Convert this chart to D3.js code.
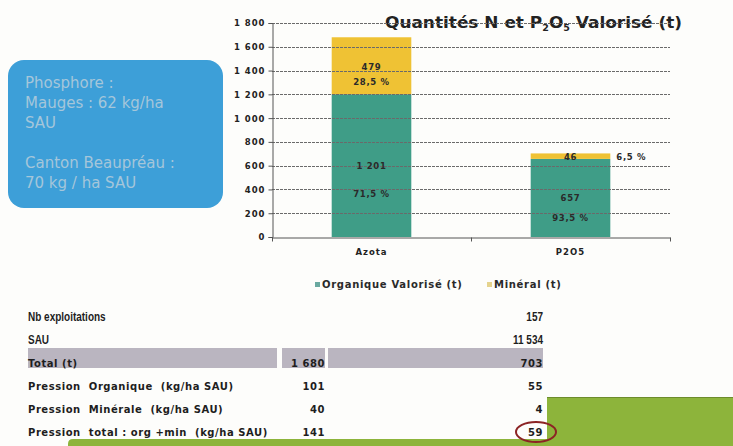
<!DOCTYPE html>
<html>
<head>
<meta charset="utf-8">
<script src="https://cdn.jsdelivr.net/npm/d3@7"></script>
<style>
    body { margin: 0; background: #fdfdfb; }
    svg { display: block; }
    .axis path, .axis line { stroke: #555; }
    .axis text { font-family: "DejaVu Sans", sans-serif; font-weight: bold; font-size: 8.5px; fill: #222; letter-spacing: 1px; }
    .pre { white-space: pre; }
</style>
</head>
<body>
<div id="chart"></div>
<script>
// chart data
var categories = ["Azota", "P2O5"];
var organique = [1201, 657];
var mineral = [479, 46];
var organiquePct = ["71,5 %", "93,5 %"];
var mineralPct = ["28,5 %", "6,5 %"];
var yTicks = [0, 200, 400, 600, 800, 1000, 1200, 1400, 1600, 1800];
var seriesNames = ["Organique Valorisé (t)", "Minéral (t)"];

// table data
var rowLabels = ["Nb exploitations", "SAU", "Total (t)", "Pression  Organique  (kg/ha SAU)",
    "Pression  Minérale  (kg/ha SAU)", "Pression  total : org +min  (kg/ha SAU)"];
var azoteCol = ["", "", "1 680", "101", "40", "141"];
var p2o5Col = ["157", "11 534", "703", "55", "4", "59"];

// note box
var noteLines = ["Phosphore :", "Mauges : 62 kg/ha", "SAU", "", "Canton Beaupréau :", "70 kg / ha SAU"];

var W = 733, H = 446;
var colors = { org: "#3f9d87", min: "#efc234", text: "#2a2a2a" };
var fr = d3.formatLocale({ decimal: ",", thousands: "\u00a0", grouping: [3], currency: ["", " €"] });
var fmt = fr.format(",");

var svg = d3.select("#chart").append("svg")
    .attr("width", W)
    .attr("height", H);

// background shapes (green block bottom right)
svg.append("path")
    .attr("d", "M547,397 L733,397 L733,446 L68,446 L68,444 Q68,439 73,439 L547,439 Z")
    .attr("fill", "#8db43b");
svg.append("line")
    .attr("x1", 547).attr("x2", 733).attr("y1", 397.5).attr("y2", 397.5)
    .attr("stroke", "#6d8c2c").attr("stroke-width", 1);

// blue note box
svg.append("rect")
    .attr("x", 8).attr("y", 60)
    .attr("width", 215).attr("height", 148)
    .attr("rx", 16).attr("ry", 16)
    .attr("fill", "#3d9fd8");
svg.append("g").selectAll("text")
    .data(noteLines)
    .join("text")
    .attr("x", 25)
    .attr("y", function(d, i) { return 88 + i * 20; })
    .attr("font-family", "DejaVu Sans, sans-serif")
    .attr("font-size", 15)
    .attr("fill", "#a5c6da")
    .text(function(d) { return d; });

// scales
var y = d3.scaleLinear().domain([0, 1800]).range([237, 23]);
var x = d3.scaleBand().domain(categories).range([272, 670]).paddingInner(0.6).paddingOuter(0.3);

// title (drawn below gridlines, like the original)
var title = svg.append("text")
    .attr("x", 385).attr("y", 28)
    .attr("font-family", "DejaVu Sans, sans-serif")
    .attr("font-weight", "bold")
    .attr("font-size", 16)
    .attr("fill", "#222");
title.append("tspan").text("Quantités N et P");
title.append("tspan").attr("font-size", 9).attr("dy", 3).text("2");
title.append("tspan").attr("dy", -3).text("O");
title.append("tspan").attr("font-size", 9).attr("dy", 3).text("5");
title.append("tspan").attr("dy", -3).text(" Valorisé (t)");
title.attr("textLength", 297).attr("lengthAdjust", "spacingAndGlyphs");

// stacked bars
var stackData = categories.map(function(c, i) {
    return { cat: c, org: organique[i], min: mineral[i], orgPct: organiquePct[i], minPct: mineralPct[i] };
});
var bars = svg.append("g").selectAll("g")
    .data(stackData)
    .join("g");
bars.append("rect")
    .attr("x", function(d) { return x(d.cat); })
    .attr("width", x.bandwidth())
    .attr("y", function(d) { return y(d.org); })
    .attr("height", function(d) { return y(0) - y(d.org); })
    .attr("fill", colors.org);
bars.append("rect")
    .attr("x", function(d) { return x(d.cat); })
    .attr("width", x.bandwidth())
    .attr("y", function(d) { return y(d.org + d.min); })
    .attr("height", function(d) { return y(d.org) - y(d.org + d.min); })
    .attr("fill", colors.min);

// gridlines
svg.append("g").selectAll("line")
    .data(yTicks.slice(1))
    .join("line")
    .attr("x1", 272).attr("x2", 670)
    .attr("y1", function(d) { return Math.round(y(d)) + 0.5; })
    .attr("y2", function(d) { return Math.round(y(d)) + 0.5; })
    .attr("stroke", "#6a6a6a")
    .attr("stroke-width", 1)
    .attr("stroke-dasharray", "3,1");

// axes
svg.append("g")
    .attr("class", "axis")
    .attr("transform", "translate(272.5,0)")
    .call(d3.axisLeft(y).tickValues(yTicks).tickSize(4).tickPadding(3).tickFormat(fmt))
    .call(function(g) { g.selectAll(".tick text").attr("dy", "0.35em"); });

var xAxis = svg.append("g")
    .attr("class", "axis")
    .attr("transform", "translate(0," + (y(0) + 0.5) + ")")
    .call(d3.axisBottom(x).tickSize(0).tickPadding(11).tickSizeOuter(0));
xAxis.selectAll(".tick text").attr("font-size", 9).attr("letter-spacing", 0.5);
// ticks between categories
var bounds = [x.range()[0], (x("Azota") + x("P2O5") + x.bandwidth()) / 2, x.range()[1]];
xAxis.selectAll(".bound")
    .data(bounds)
    .join("line")
    .attr("class", "bound")
    .attr("x1", function(d) { return Math.round(d) + 0.5; })
    .attr("x2", function(d) { return Math.round(d) + 0.5; })
    .attr("y1", 0).attr("y2", 4);

// bar labels
var lbl = svg.append("g")
    .attr("font-family", "DejaVu Sans, sans-serif")
    .attr("font-weight", "bold")
    .attr("font-size", 8.5)
    .attr("letter-spacing", 0.7)
    .attr("fill", colors.text)
    .attr("text-anchor", "middle");

stackData.forEach(function(d) {
    var cx = x(d.cat) + x.bandwidth() / 2;
    // organique segment
    var top = y(d.org), bot = y(0), h = bot - top, mid = (top + bot) / 2;
    lbl.append("text").attr("x", cx).attr("y", mid).attr("dy", "0.35em").text(fmt(d.org));
    lbl.append("text").attr("x", cx).attr("y", mid + Math.min(28, h * 0.26)).attr("dy", "0.35em").text(d.orgPct);
    // mineral segment
    var mtop = y(d.org + d.min), mh = top - mtop, mmid = (mtop + top) / 2;
    if (mh > 20) {
        lbl.append("text").attr("x", cx).attr("y", mmid + 1).attr("dy", "0.35em").text(fmt(d.min));
        lbl.append("text").attr("x", cx).attr("y", mmid + 16).attr("dy", "0.35em").text(d.minPct);
    } else {
        lbl.append("text").attr("x", cx).attr("y", mmid + 1).attr("dy", "0.35em").text(fmt(d.min));
        lbl.append("text").attr("x", x(d.cat) + x.bandwidth() + 6).attr("y", mmid + 1).attr("dy", "0.35em")
            .attr("text-anchor", "start").text(d.minPct);
    }
});

// legend
var legend = svg.append("g")
    .attr("font-family", "DejaVu Sans, sans-serif")
    .attr("font-weight", "bold")
    .attr("font-size", 10)
    .attr("letter-spacing", 0.7)
    .attr("fill", colors.text);
var legendX = [315, 487];
var legendColors = ["#6aa9a0", "#e5d38e"];
seriesNames.forEach(function(name, i) {
    legend.append("rect")
        .attr("x", legendX[i]).attr("y", 282)
        .attr("width", 5).attr("height", 5)
        .attr("fill", legendColors[i]);
    legend.append("text")
        .attr("x", legendX[i] + 7).attr("y", 288)
        .text(name);
});

// table
var rowY = d3.scaleLinear().domain([0, 1]).range([321, 344]);
var table = svg.append("g").attr("fill", "#1e1e1e");

// grey band behind the Total row
var bandY = rowY(2) - 19;
[[28, 277], [282, 325], [328, 543]].forEach(function(s) {
    table.append("rect")
        .attr("x", s[0]).attr("y", bandY)
        .attr("width", s[1] - s[0]).attr("height", 20)
        .attr("fill", "#bab5c0");
});

rowLabels.forEach(function(label, i) {
    var narrow = i < 2;
    var cells = [
        { text: label, x: 28, anchor: "start" },
        { text: azoteCol[i], x: 325, anchor: "end" },
        { text: p2o5Col[i], x: 543, anchor: "end" }
    ];
    cells.forEach(function(c) {
        if (!c.text) return;
        var g = table.append("g")
            .attr("transform", "translate(" + c.x + "," + rowY(i) + ")" + (narrow ? " scale(0.8,1)" : ""));
        g.append("text")
            .attr("class", "pre")
            .attr("text-anchor", c.anchor)
            .attr("font-family", narrow ? "Liberation Sans, Arial, sans-serif" : "DejaVu Sans, sans-serif")
            .attr("font-weight", "bold")
            .attr("font-size", narrow ? 12.5 : 10)
            .attr("letter-spacing", narrow ? 0 : 0.55)
            .text(c.text);
    });
});

// red ring around the last value
svg.append("ellipse")
    .attr("cx", 536).attr("cy", rowY(5) - 4)
    .attr("rx", 20).attr("ry", 10)
    .attr("fill", "none")
    .attr("stroke", "#8c2424")
    .attr("stroke-width", 2);
</script>
</body>
</html>
